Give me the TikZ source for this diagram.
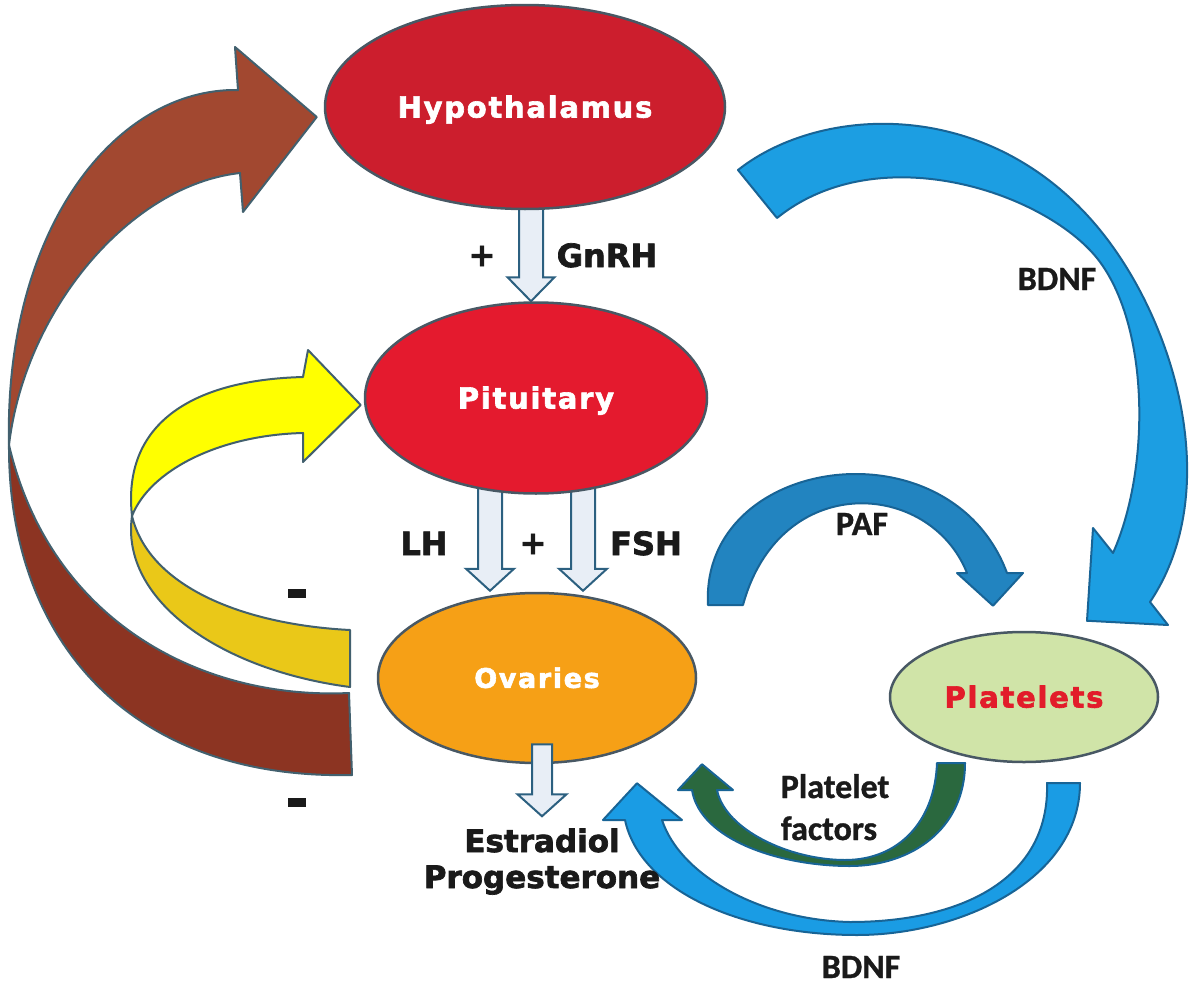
\documentclass[tikz,border=0pt]{standalone}
\usepackage{fontspec}
\setmainfont{DejaVu Sans}
\newfontfamily\heavy{DejaVu Sans}[BoldFeatures={FakeBold=2.2}]
\newfontfamily\spaced{DejaVu Sans}[BoldFeatures={FakeBold=2.2,LetterSpace=6}]
\newfontfamily\calib{Carlito}[BoldFeatures={FakeBold=1}]
\usetikzlibrary{shapes.geometric,calc}
\pgfdeclarelayer{background}
\pgfsetlayers{background,main}

\definecolor{hypred}{RGB}{204,30,45}
\definecolor{pitred}{RGB}{228,26,46}
\definecolor{ovorange}{RGB}{246,160,22}
\definecolor{pltgreen}{RGB}{208,228,168}
\definecolor{platred}{RGB}{226,28,42}
\definecolor{brownfront}{RGB}{162,72,48}
\definecolor{brownback}{RGB}{140,52,34}
\definecolor{yelfront}{RGB}{255,255,0}
\definecolor{yelback}{RGB}{234,200,24}
\definecolor{bdnfblue}{RGB}{28,158,226}
\definecolor{pafblue}{RGB}{34,132,192}
\definecolor{lowblue}{RGB}{26,156,228}
\definecolor{grfill}{RGB}{42,104,62}
\definecolor{hollowfill}{RGB}{232,238,246}
\definecolor{hollowline}{RGB}{44,96,128}
\definecolor{ribline}{RGB}{66,96,110}
\definecolor{blueline}{RGB}{24,100,150}
\definecolor{ellline}{RGB}{72,88,100}
\definecolor{labtext}{RGB}{26,26,26}

\tikzset{
  ell/.style={ellipse, draw=ellline, line width=2.5pt, inner sep=0pt, text depth=0pt},
  hollow/.style={fill=hollowfill, draw=hollowline, line width=2pt, line join=miter},
  ribbon/.style={draw=ribline, line width=2pt, line join=round},
  blueribbon/.style={draw=blueline, line width=2pt, line join=round},
  lab/.style={anchor=base, text=labtext, inner sep=0pt},
  heavylab/.style={lab, font=\heavy\bfseries\fontsize{32}{38}\selectfont},
  caliblab/.style={lab, font=\calib\bfseries\fontsize{34}{40}\selectfont},
  minuslab/.style={lab, font=\heavy\bfseries\fontsize{54}{54}\selectfont},
}

% vertical block arrow: start (x,y of shaft top), tip (y), shaft half, head half, head length
\newcommand{\hollowdown}[5]{%
  \draw[hollow] let \p1=(#1), \p2=(#2) in
    (\x1-#3,\y1) -- (\x1-#3,\y2+#5) -- (\x1-#4,\y2+#5) -- (\x1,\y2)
    -- (\x1+#4,\y2+#5) -- (\x1+#3,\y2+#5) -- (\x1+#3,\y1) -- cycle;}

\begin{document}
\begin{tikzpicture}[x=1pt,y=-1pt]
\useasboundingbox (0,0) rectangle (1200,985);
\begin{pgfonlayer}{background}
  \fill[white] (0,0) rectangle (1200,985);
\end{pgfonlayer}

% ---- main nodes ----
\node[ell, fill=hypred, minimum width=400pt, minimum height=204pt, text height=21.1pt,
      text=white, font=\spaced\bfseries\fontsize{29}{35}\selectfont] (hyp) at (525,107) {Hypothalamus};
\node[ell, fill=pitred, minimum width=342pt, minimum height=191pt, text height=21.1pt,
      text=white, font=\spaced\bfseries\fontsize{29}{35}\selectfont] (pit) at (536,398) {Pituitary};
\node[ell, fill=ovorange, minimum width=318pt, minimum height=170pt, text height=19.7pt,
      text=white, font=\spaced\bfseries\fontsize{27}{33}\selectfont] (ov) at (537,678) {Ovaries};
\node[ell, fill=pltgreen, minimum width=268pt, minimum height=130pt, text height=21.1pt,
      text=platred, font=\spaced\bfseries\fontsize{29}{35}\selectfont] (plt) at (1024,697) {Platelets};

% ---- hollow block arrows ----
\coordinate (gA) at ($(hyp.south)+(6,-10)$);
\coordinate (gB) at (pit.north);
\coordinate (lA) at ($(pit.south)+(-46,-12)$);
\coordinate (lB) at ($(ov.north)+(0,-1)$);
\coordinate (fA) at ($(pit.south)+(47,-12)$);
\coordinate (fB) at ($(ov.north)+(0,-1)$);
\coordinate (eA) at ($(ov.south)+(5,-20)$);
\coordinate (eB) at ($(ov.south)+(5,52)$);
\begin{pgfonlayer}{background}
  \hollowdown{gA}{gB}{12pt}{23.5pt}{24pt}
  \hollowdown{lA}{lB}{12pt}{24pt}{22pt}
  \hollowdown{fA}{fB}{12pt}{24pt}{22pt}
\end{pgfonlayer}
\hollowdown{eA}{eB}{10pt}{24.5pt}{22pt}

% ---- tips of curved arrows ----
\coordinate (brtip) at ($(hyp.west)+(-7,10)$);
\coordinate (yetip) at ($(pit.west)+(-3,7)$);
\coordinate (bdtip) at ($(plt.north)+(63,-10)$);
\coordinate (paftip) at ($(plt.north)+(-31,-25)$);
\coordinate (grtip) at ($(ov.south)+(165,0)$);
\coordinate (bltip) at ($(ov.south)+(100,19)$);

% brown feedback arrow (back part, then front part)
\draw[ribbon, fill=brownback] (9,445) .. controls (8,640) and (130,780) .. (352,775)
  -- (349,693) .. controls (200,700) and (50,620) .. (9,445) -- cycle;
\draw[ribbon, fill=brownfront] (9,445) .. controls (4,230) and (115,88) .. (238,90)
  -- (235,47) -- (brtip) -- (243,212) -- (240,173)
  .. controls (130,185) and (25,310) .. (9,445) -- cycle;

% yellow feedback arrow
\draw[ribbon, fill=yelback] (132,516) .. controls (120,600) and (220,670) .. (350,687)
  -- (350,630) .. controls (250,625) and (150,590) .. (132,516) -- cycle;
\draw[ribbon, fill=yelfront] (132,516) .. controls (122,425) and (190,380) .. (303,377)
  -- (308,350) -- (yetip) -- (303,462) -- (303,433)
  .. controls (220,435) and (150,470) .. (132,516) -- cycle;

% big BDNF arrow: hypothalamus -> platelets
\draw[blueribbon, fill=bdnfblue] (738,170) .. controls (820,105) and (990,95) .. (1100,230)
  .. controls (1175,322) and (1225,490) .. (1150,602)
  -- (1168,625) -- (bdtip) -- (1093,528) -- (1113,553)
  .. controls (1150,470) and (1150,330) .. (1100,262)
  .. controls (1050,194) and (880,135) .. (777,218) -- cycle;

% PAF arrow: ovaries -> platelets
\draw[blueribbon, fill=pafblue] (708,605) .. controls (700,455) and (950,420) .. (1007,573)
  -- (1023,573) -- (paftip) -- (957,573) -- (967,573)
  .. controls (930,480) and (780,470) .. (743,605) -- cycle;

% platelet factors arrow: platelets -> ovaries
\draw[blueribbon, fill=grfill] (965,763) .. controls (965,830) and (910,866) .. (850,866)
  .. controls (780,866) and (700,840) .. (692,790)
  -- (678,790) -- (grtip) -- (733,790) -- (717,790)
  .. controls (725,830) and (790,860) .. (845,860)
  .. controls (900,860) and (935,820) .. (937,763) -- cycle;

% lower BDNF arrow: platelets -> ovaries
\draw[blueribbon, fill=lowblue] (1080,783) .. controls (1080,880) and (960,935) .. (857,935)
  .. controls (740,935) and (640,890) .. (625,820)
  -- (603,820) -- (bltip) -- (682,820) -- (662,820)
  .. controls (680,875) and (760,920) .. (850,922)
  .. controls (960,922) and (1050,880) .. (1047,783) -- cycle;

% ---- labels ----
\node[heavylab] (plusA) at (482,266) {+};
\node[heavylab] (gnrh) at (607,267) {GnRH};
\node[heavylab] (lh) at (424,555) {LH};
\node[heavylab] (plusB) at (533,554) {+};
\node[heavylab] (fsh) at (646,555) {FSH};
\node[heavylab, font=\heavy\bfseries\fontsize{31}{37}\selectfont] (estr) at (542,852) {Estradiol};
\node[heavylab, font=\heavy\bfseries\fontsize{31}{37}\selectfont] (prog) at (542,888) {Progesterone};
\node[caliblab] (bdnfA) at (1057,290) {BDNF};
\node[caliblab] (paf) at (862,535) {PAF};
\node[lab, font=\calib\bfseries\fontsize{34}{40}\selectfont] (pfA) at (835,798) {Platelet};
\node[lab, font=\calib\bfseries\fontsize{34}{40}\selectfont] (pfB) at (829,840) {factors};
\node[caliblab] (bdnfB) at (861,978) {BDNF};
\node[minuslab] (minA) at (297,609) {-};
\node[minuslab] (minB) at (297,818) {-};
\end{tikzpicture}
\end{document}
